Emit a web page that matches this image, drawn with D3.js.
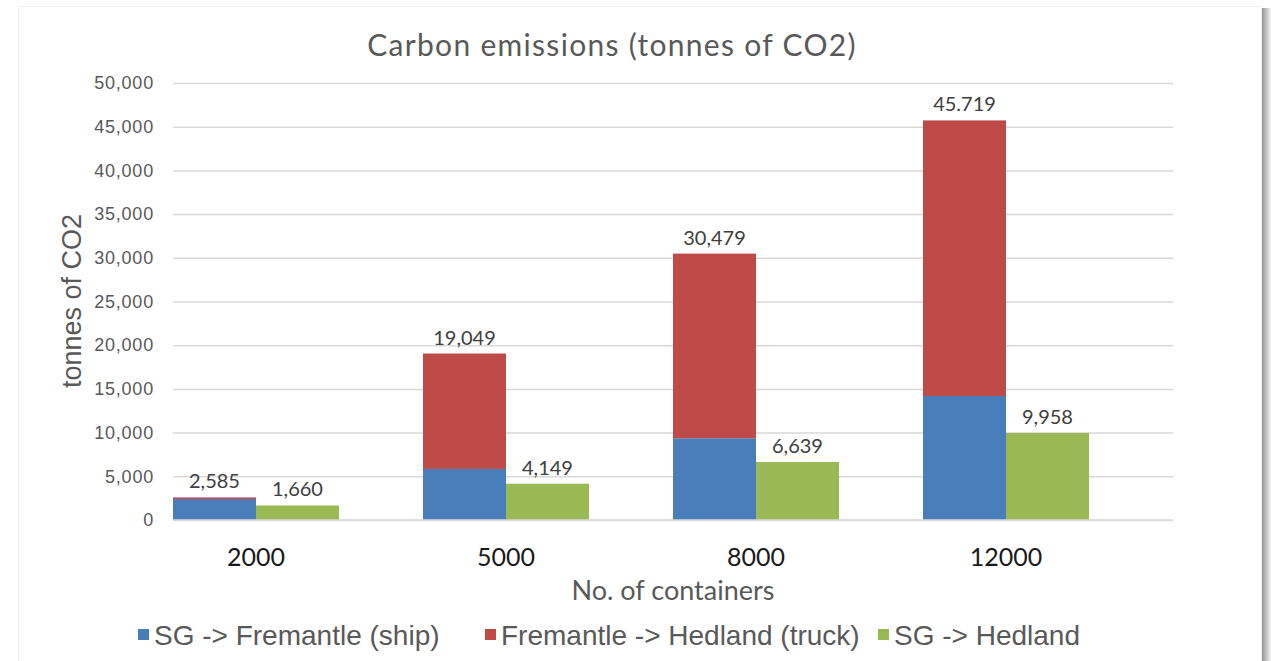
<!DOCTYPE html>
<html>
<head>
  <meta charset="utf-8">
  <script src="https://cdn.jsdelivr.net/npm/d3@7"></script>
  <style>
    body { margin: 0; background: #ffffff; }
    svg { display: block; }
  </style>
</head>
<body>
<script>
  // chart data
  var categories = ["2000", "5000", "8000", "12000"];
  var shipValues = [2400, 5840, 9350, 14190];
  var truckValues = [185, 13209, 21129, 31529];
  var hedlandValues = [1660, 4149, 6639, 9958];
  var totalLabels = ["2,585", "19,049", "30,479", "45.719"];
  var hedlandLabels = ["1,660", "4,149", "6,639", "9,958"];
  var seriesNames = ["SG -> Fremantle (ship)", "Fremantle -> Hedland (truck)", "SG -> Hedland"];
  var yTicks = [0, 5000, 10000, 15000, 20000, 25000, 30000, 35000, 40000, 45000, 50000];

  var colors = ["#4a7ebb", "#be4b48", "#98b954"];

  var width = 1271, height = 661;
  var svg = d3.select("body").append("svg")
    .attr("width", width)
    .attr("height", height);

  // card with shadow on the right
  var defs = svg.append("defs");
  var grad = defs.append("linearGradient").attr("id", "shadow");
  grad.append("stop").attr("offset", "0%").attr("stop-color", "#8a8a8a");
  grad.append("stop").attr("offset", "100%").attr("stop-color", "#f4f4f4");
  svg.append("rect")
    .attr("x", 1261).attr("y", 8)
    .attr("width", 10).attr("height", height - 8)
    .attr("fill", "url(#shadow)");
  svg.append("rect")
    .attr("x", 18.5).attr("y", 6.5)
    .attr("width", 1243).attr("height", height)
    .attr("fill", "#fff")
    .attr("stroke", "#f0f0f0");

  var plotLeft = 173, plotRight = 1173, plotTop = 83, plotBottom = 520;

  var y = d3.scaleLinear().domain([0, 50000]).range([plotBottom, plotTop]);
  var x = d3.scaleBand().domain(categories)
    .range([plotLeft, plotRight])
    .paddingInner(0.336).paddingOuter(0.168).align(0);
  var xs = d3.scaleBand().domain(["stack", "hedland"]).range([0, x.bandwidth()]);

  // gridlines and y tick labels
  var yAxis = d3.axisLeft(y).tickValues(yTicks)
    .tickSize(-(plotRight - plotLeft))
    .tickPadding(19)
    .tickFormat(d3.format(","));
  var gy = svg.append("g")
    .attr("transform", "translate(" + plotLeft + ",0)")
    .call(yAxis);
  gy.select(".domain").remove();
  gy.selectAll(".tick line").attr("stroke", "#d9d9d9").attr("stroke-width", 1.5);
  gy.selectAll(".tick text")
    .attr("fill", "#595959")
    .style("font-family", "'Liberation Sans', Arial, sans-serif")
    .style("font-size", "18px")
    .style("letter-spacing", "0.8px");

  // stacked bars
  var rows = categories.map(function(c, i) {
    return { cat: c, ship: shipValues[i], truck: truckValues[i] };
  });
  var stacked = d3.stack().keys(["ship", "truck"])(rows);

  svg.append("g").selectAll("g")
    .data(stacked)
    .join("g")
    .attr("fill", function(d, i) { return colors[i]; })
    .selectAll("rect")
    .data(function(d) { return d; })
    .join("rect")
    .attr("x", function(d) { return x(d.data.cat) + xs("stack"); })
    .attr("width", xs.bandwidth())
    .attr("y", function(d) { return y(d[1]); })
    .attr("height", function(d) { return y(d[0]) - y(d[1]); });

  svg.append("g").selectAll("rect")
    .data(categories)
    .join("rect")
    .attr("fill", colors[2])
    .attr("x", function(d) { return x(d) + xs("hedland"); })
    .attr("width", xs.bandwidth())
    .attr("y", function(d, i) { return y(hedlandValues[i]); })
    .attr("height", function(d, i) { return plotBottom - y(hedlandValues[i]); });

  // value labels
  var labelStyle = function(sel) {
    sel.attr("text-anchor", "middle")
      .attr("fill", "#404040")
      .style("font-family", "Lato, 'Open Sans', sans-serif")
      .style("font-size", "20px");
  };
  svg.append("g").selectAll("text")
    .data(categories)
    .join("text")
    .attr("x", function(d) { return x(d) + xs("stack") + xs.bandwidth() / 2; })
    .attr("y", function(d, i) { return y(shipValues[i] + truckValues[i]) - 9; })
    .text(function(d, i) { return totalLabels[i]; })
    .call(labelStyle);
  svg.append("g").selectAll("text")
    .data(categories)
    .join("text")
    .attr("x", function(d) { return x(d) + xs("hedland") + xs.bandwidth() / 2; })
    .attr("y", function(d, i) { return y(hedlandValues[i]) - 9; })
    .text(function(d, i) { return hedlandLabels[i]; })
    .call(labelStyle);

  // x category labels
  var gx = svg.append("g")
    .attr("transform", "translate(0," + plotBottom + ")")
    .call(d3.axisBottom(x).tickSize(0).tickPadding(28));
  gx.select(".domain").attr("stroke", "#d9d9d9").attr("stroke-width", 1.5)
    .attr("d", "M" + plotLeft + ",0H" + plotRight);
  gx.selectAll(".tick text")
    .attr("fill", "#1a1a1a")
    .style("font-family", "Lato, 'Open Sans', sans-serif")
    .style("font-size", "25px");

  // titles
  svg.append("text")
    .attr("x", 612).attr("y", 56)
    .attr("text-anchor", "middle")
    .attr("fill", "#595959")
    .style("font-family", "Lato, 'Open Sans', sans-serif")
    .style("font-size", "30px")
    .style("letter-spacing", "1.3px")
    .text("Carbon emissions (tonnes of CO2)");

  svg.append("text")
    .attr("x", 673).attr("y", 600)
    .attr("text-anchor", "middle")
    .attr("fill", "#595959")
    .style("font-family", "Lato, 'Open Sans', sans-serif")
    .style("font-size", "27px")
    .text("No. of containers");

  svg.append("text")
    .attr("transform", "translate(81,301) rotate(-90)")
    .attr("text-anchor", "middle")
    .attr("fill", "#595959")
    .style("font-family", "'Liberation Sans', Arial, sans-serif")
    .style("font-size", "27px")
    .text("tonnes of CO2");

  // legend
  var legendX = [138, 485, 878];
  var legend = svg.append("g").selectAll("g")
    .data(seriesNames)
    .join("g")
    .attr("transform", function(d, i) { return "translate(" + legendX[i] + ",635)"; });
  legend.append("rect")
    .attr("x", 0).attr("y", -6)
    .attr("width", 11).attr("height", 11)
    .attr("fill", function(d, i) { return colors[i]; });
  legend.append("text")
    .attr("x", 16).attr("y", 10)
    .attr("fill", "#595959")
    .style("font-family", "'Liberation Sans', Arial, sans-serif")
    .style("font-size", "28px")
    .text(function(d) { return d; });
</script>
</body>
</html>
